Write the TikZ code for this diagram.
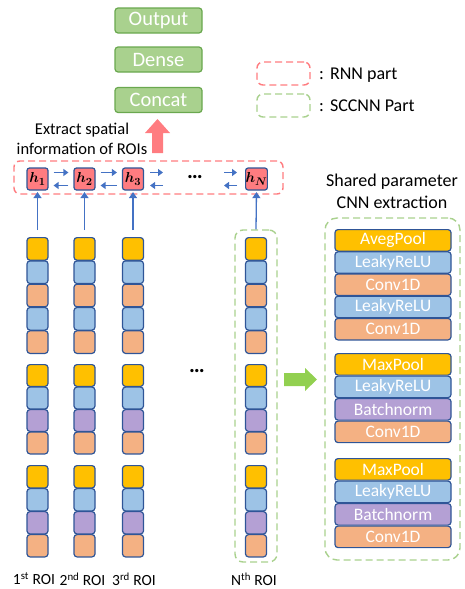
\documentclass[tikz,border=0pt]{standalone}
\usepackage{fontspec}
\setmainfont{Carlito}
\usepackage{amsmath,bm}
\usetikzlibrary{arrows.meta,fit}
\definecolor{yc}{HTML}{FFC000}
\definecolor{bc}{HTML}{9DC3E6}
\definecolor{oc}{HTML}{F4B183}
\definecolor{pc}{HTML}{B4A0D4}
\definecolor{bord}{HTML}{2F5597}
\definecolor{gfill}{HTML}{A9D18E}
\definecolor{gbord}{HTML}{6AA84F}
\definecolor{hred}{HTML}{FF7C80}
\definecolor{abl}{HTML}{4472C4}
\definecolor{garrow}{HTML}{92D050}
\begin{document}
\begin{tikzpicture}[x=1pt,y=-1pt,
  gbox/.style={draw=gbord, fill=gfill, rounded corners=3pt, line width=1.2pt, minimum width=87pt, minimum height=25pt, text=white, font=\fontsize{20.5}{22}\selectfont, inner sep=0pt},
  hbox/.style={draw=bord, fill=hred, rounded corners=2.5pt, line width=1.2pt, minimum width=21pt, minimum height=22pt, inner sep=0pt, font=\fontsize{15}{15}\selectfont},
  blk/.style={draw=bord, rounded corners=3pt, line width=1.2pt, minimum width=21pt, inner sep=0pt, anchor=north},
  rblk/.style={draw=bord, rounded corners=3pt, line width=1.2pt, minimum width=116pt, minimum height=21.5pt, inner sep=0pt, anchor=north, text=white, font=\fontsize{17.5}{18}\selectfont},
  rdash/.style={draw=hred, dashed, dash pattern=on 7pt off 4pt, line width=1.4pt, rounded corners=6pt, inner sep=0pt},
  gdash/.style={draw=gfill, dashed, dash pattern=on 7pt off 4pt, line width=1.4pt, rounded corners=8pt, inner sep=0pt},
  harr/.style={draw=abl, line width=1.5pt, -{Triangle[length=5pt,width=7pt]}},
  varr/.style={draw=abl, line width=1.3pt, -{Triangle[length=6pt,width=8pt]}, shorten >=1.5pt},
  lbl/.style={font=\fontsize{15.5}{17}\selectfont, inner sep=0pt},
  dotsn/.style={inner sep=0pt, font=\fontsize{22}{22}\selectfont\bfseries}
]
\useasboundingbox (0,0) rectangle (464,589);

% top green boxes
\node[gbox] (out) at (158.5,20.5) {Output};
\node[gbox] (dense) at (158.5,59.5) {Dense};
\node[gbox] (concat) at (158.5,100) {Concat};

% legend
\node[rdash, fit={(257,62) (310,85)}] (legR) {};
\node[gdash, rounded corners=6pt, fit={(257,94) (310,117)}] (legG) {};
\node[anchor=west, inner sep=0pt, font=\fontsize{18}{20}\selectfont] (legRt) at (319,75) {:\hspace{6pt}RNN part};
\node[anchor=west, inner sep=0pt, font=\fontsize{18}{20}\selectfont] (legGt) at (319,106) {:\hspace{6pt}SCCNN Part};

% big red arrow
\fill[hred] (152,153) -- (152,133) -- (145,133) -- (157.5,119) -- (170,133) -- (163,133) -- (163,153) -- cycle;

% extract text
\node[align=center, inner sep=0pt, font=\fontsize{16.5}{20}\selectfont] (extract) at (82,139) {Extract spatial\\information of ROIs};

% RNN box
\node[rdash, fit={(14,161) (283,194)}] (rnn) {};
\node[hbox] (h1) at (37.5,179) {$\bm{h}_{\bm{1}}$};
\node[hbox] (h2) at (84.5,179) {$\bm{h}_{\bm{2}}$};
\node[hbox] (h3) at (133,179) {$\bm{h}_{\bm{3}}$};
\node[hbox] (hN) at (256.5,179) {$\bm{h}_{\bm{N}}$};
\node[dotsn] (hdots) at (195,177) {…};
\coordinate (r3) at (163,179);
\coordinate (lN) at (224,179);

\draw[harr] ([xshift=5pt,yshift=6.5pt]h1.east) -- ([xshift=-5pt,yshift=6.5pt]h2.west);
\draw[harr] ([xshift=-5pt,yshift=-6.5pt]h2.west) -- ([xshift=5pt,yshift=-6.5pt]h1.east);
\draw[harr] ([xshift=5pt,yshift=6.5pt]h2.east) -- ([xshift=-5pt,yshift=6.5pt]h3.west);
\draw[harr] ([xshift=-5pt,yshift=-6.5pt]h3.west) -- ([xshift=5pt,yshift=-6.5pt]h2.east);
\draw[harr] ([xshift=6pt,yshift=6.5pt]h3.east) -- ([yshift=6.5pt]r3);
\draw[harr] ([yshift=-6.5pt]r3) -- ([xshift=6pt,yshift=-6.5pt]h3.east);
\draw[harr] ([yshift=6.5pt]lN) -- ([xshift=-8pt,yshift=6.5pt]hN.west);
\draw[harr] ([xshift=-8pt,yshift=-6.5pt]hN.west) -- ([yshift=-6.5pt]lN);

% ROI columns
\foreach \cx/\c in {37.5/1, 84.5/2, 133/3, 256/N} {
  \foreach \col [count=\k] in {yc,bc,oc,bc,oc}
    \node[blk, fill=\col, minimum height=22.6pt] (c\c a\k) at (\cx, {237+23.3*(\k-1)}) {};
  \foreach \col [count=\k] in {yc,bc,pc,oc}
    \node[blk, fill=\col, minimum height=21.8pt] (c\c b\k) at (\cx, {364+22.5*(\k-1)}) {};
  \foreach \col [count=\k] in {yc,bc,pc,oc}
    \node[blk, fill=\col, minimum height=22.3pt] (c\c c\k) at (\cx, {465+23*(\k-1)}) {};
}
\node[gdash, fit={(235,230) (277,562)}] (fitN) {};

\draw[varr] ([yshift=7pt]c1a1.north) -- (h1.south);
\draw[varr] ([yshift=7pt]c2a1.north) -- (h2.south);
\draw[varr] ([yshift=7pt]c3a1.north) -- (h3.south);
\draw[varr] (fitN.north) -- (hN.south);

\node[dotsn] (mdots) at (197,371) {…};

% labels
\node[lbl] (l1) at (34,579) {1\textsuperscript{st} ROI};
\node[lbl] (l2) at (82.5,579) {2\textsuperscript{nd} ROI};
\node[lbl] (l3) at (134,579) {3\textsuperscript{rd} ROI};
\node[lbl] (lNt) at (254,579) {N\textsuperscript{th} ROI};

% green arrow
\fill[garrow] (284,373) -- (305,373) -- (305,368) -- (317,379.5) -- (305,391) -- (305,386) -- (284,386) -- cycle;

% right side
\node[align=center, inner sep=0pt, font=\fontsize{18}{22}\selectfont] (shared) at (392,191) {Shared parameter\\CNN extraction};
\node[gdash, rounded corners=12pt, fit={(325,218) (460,560)}] (cnnbox) {};
\foreach \col/\t [count=\k] in {yc/AvegPool, bc/LeakyReLU, oc/Conv1D, bc/LeakyReLU, oc/Conv1D}
  \node[rblk, fill=\col] (ra\k) at (393, {229+22.2*(\k-1)}) {\t};
\foreach \col/\t [count=\k] in {yc/MaxPool, bc/LeakyReLU, pc/Batchnorm, oc/Conv1D}
  \node[rblk, fill=\col] (rb\k) at (393, {353+22.5*(\k-1)}) {\t};
\foreach \col/\t [count=\k] in {yc/MaxPool, bc/LeakyReLU, pc/Batchnorm, oc/Conv1D}
  \node[rblk, fill=\col] (rc\k) at (393, {458+22.5*(\k-1)}) {\t};
\end{tikzpicture}
\end{document}
